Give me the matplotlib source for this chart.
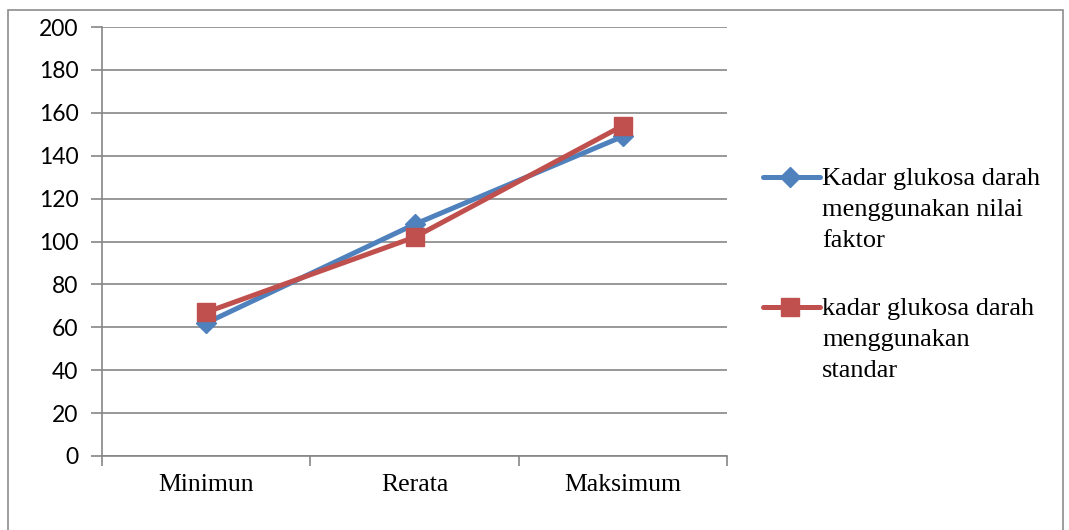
import matplotlib
matplotlib.use("Agg")
import matplotlib.pyplot as plt
from matplotlib.lines import Line2D
from matplotlib.patches import Rectangle

categories = ["Minimun", "Rerata", "Maksimum"]
nilai_faktor = [62, 108, 149]
standar = [67, 102, 154]
series_labels = ["Kadar glukosa darah\nmenggunakan nilai\nfaktor",
                 "kadar glukosa darah\nmenggunakan\nstandar"]
yticks = list(range(0, 201, 20))

W, H = 1069, 530
fig = plt.figure(figsize=(W / 100, H / 100), dpi=100)
fig.patch.set_facecolor("white")

# outer chart border
fig.add_artist(Rectangle((8 / W, -0.05), (1063 - 8) / W, (530 - 10) / H + 0.05,
                         transform=fig.transFigure, fill=False,
                         edgecolor="#8c8c8c", lw=1.2))

ax = fig.add_axes([102 / W, 1 - 456 / H, (727 - 102) / W, (456 - 27) / H])
grid_c = "#868686"
blue = "#4F81BD"
red = "#C0504D"

x = list(range(len(categories)))
ax.plot(x, nilai_faktor, color=blue, lw=3.6, marker="D", ms=10,
        markeredgecolor=blue, markerfacecolor=blue, zorder=3)
ax.plot(x, standar, color=red, lw=3.6, marker="s", ms=13,
        markeredgecolor=red, markerfacecolor=red, zorder=4)

ax.set_xlim(-0.5, len(categories) - 0.5)
ax.set_ylim(0, 200)
ax.set_yticks(yticks)
ax.set_yticklabels([str(v) for v in yticks], family="Lato", fontsize=16.5)
ax.yaxis.grid(True, color=grid_c, lw=1.2)
ax.set_axisbelow(True)

ax.set_xticks([i + 0.5 for i in range(-1, len(categories))])
ax.set_xticklabels([])
ax.set_xticks(x, minor=True)
ax.set_xticklabels(categories, minor=True, family="Liberation Serif", fontsize=18.5)
ax.tick_params(axis="x", which="major", length=7, color=grid_c, width=1.2, direction="out")
ax.tick_params(axis="x", which="minor", length=0, pad=13)
ax.tick_params(axis="y", length=8, color=grid_c, width=1.2, pad=9)

for s in ["top", "right"]:
    ax.spines[s].set_visible(False)
for s in ["left", "bottom"]:
    ax.spines[s].set_color(grid_c)
    ax.spines[s].set_linewidth(1.2)

# legend (handle aligned with first text line)
leg_entries = [(blue, "D", 10, 177, 210, series_labels[0]),
               (red, "s", 13, 307, 340, series_labels[1])]
for col, mk, ms, yl, yc, lab in leg_entries:
    fy = 1 - yl / H
    fig.add_artist(Line2D([763 / W, 820 / W], [fy, fy], transform=fig.transFigure,
                          color=col, lw=3.6, solid_capstyle="round"))
    fig.add_artist(Line2D([790 / W], [fy], transform=fig.transFigure,
                          color=col, marker=mk, ms=ms, lw=0))
    fig.text(822 / W, 1 - yc / H, lab, family="Liberation Serif", fontsize=19,
             va="center", ha="left", linespacing=1.52)

fig.savefig("out.png", dpi=100)
